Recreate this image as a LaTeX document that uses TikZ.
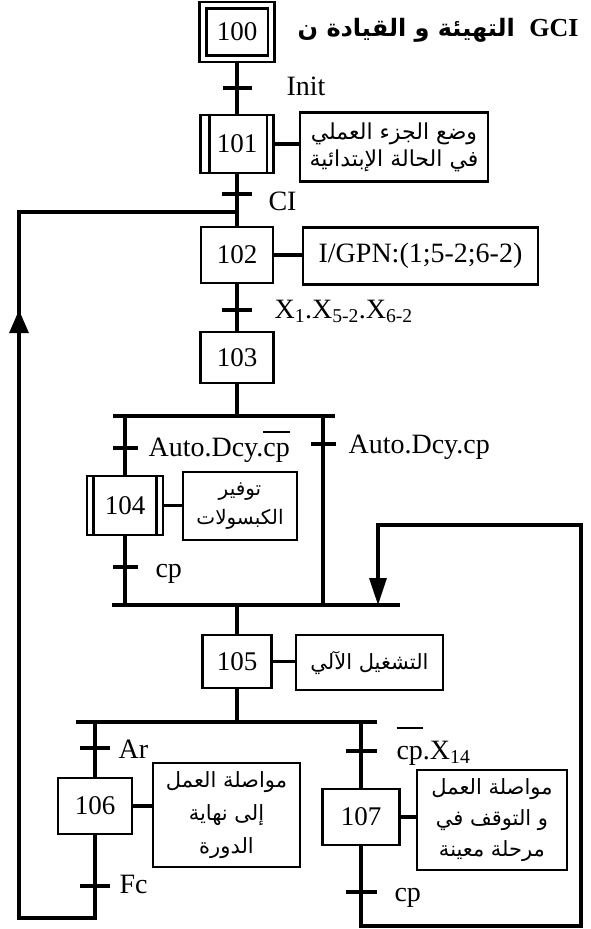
\documentclass[tikz,border=0pt]{standalone}
\usepackage{fontspec}
\setmainfont{Liberation Serif}
\newfontfamily\arabicfont[Script=Arabic]{DejaVu Sans}
\TeXXeTstate=1
\usetikzlibrary{arrows.meta}
% overline raised by #1 above the baseline, over the text #2
\newcommand\ovl[2]{\setbox0\hbox{#2}\rlap{\raisebox{#1}{\rule{\wd0}{1.6pt}}}\box0}
\begin{document}
\begin{tikzpicture}[x=1pt,y=-1pt,line width=3.1pt,
  stepbox/.style={draw,line width=2.9pt,inner sep=0pt,font=\fontsize{27}{30}\selectfont},
  actbox/.style={draw,line width=2.9pt,inner sep=0pt,align=center,font=\arabicfont\fontsize{21}{28}\selectfont},
  trans/.style={fill=black,inner sep=0pt,minimum height=3.1pt},
  lbl/.style={anchor=base west,inner sep=0pt,font=\fontsize{28}{30}\selectfont},
  bar/.style={line width=3.1pt}]
\useasboundingbox (0,0) rectangle (590,929);

% title
\node[anchor=base east,inner sep=0pt,font=\arabicfont\bfseries\fontsize{24}{28}\selectfont] (title) at (580,36)
  {\beginR\beginL{\rmfamily\bfseries\fontsize{26}{28}\selectfont GCI}\endL\hspace{6pt} التهيئة و القيادة ن\endR};

% steps
\node[stepbox,minimum width=75pt,minimum height=60pt] (s100) at (237,32) {100};
\draw[line width=2.9pt] ([xshift=8pt,yshift=-8pt]s100.north west) rectangle ([xshift=-8pt,yshift=8pt]s100.south east);
\node[stepbox,minimum width=73pt,minimum height=58pt] (s101) at (237,144) {101};
\draw[line width=2.9pt] ([xshift=10pt]s101.north west) -- ([xshift=10pt]s101.south west);
\draw[line width=2.9pt] ([xshift=-8pt]s101.north east) -- ([xshift=-8pt]s101.south east);
\node[stepbox,minimum width=72pt,minimum height=56pt] (s102) at (237,255) {102};
\node[stepbox,minimum width=73pt,minimum height=51pt] (s103) at (237,357.5) {103};
\node[stepbox,minimum width=76pt,minimum height=59pt] (s104) at (125,505.5) {104};
\draw[line width=2.9pt] ([xshift=8pt]s104.north west) -- ([xshift=8pt]s104.south west);
\draw[line width=2.9pt] ([xshift=-8pt]s104.north east) -- ([xshift=-8pt]s104.south east);
\node[stepbox,minimum width=69pt,minimum height=53pt] (s105) at (237,661.5) {105};
\node[stepbox,minimum width=74pt,minimum height=56pt] (s106) at (95,806) {106};
\node[stepbox,minimum width=77pt,minimum height=56pt] (s107) at (361,817) {107};

% actions
\node[actbox,minimum width=188pt,minimum height=69pt,font=\arabicfont\fontsize{22}{27}\selectfont] (a101) at (394,147)
  {\beginR وضع الجزء العملي\endR\\\beginR في الحالة الإبتدائية\endR};
\node[actbox,minimum width=235pt,minimum height=57pt,font=\fontsize{28}{30}\selectfont] (a102) at (420.5,256)
  {I/GPN:(1;5-2;6-2)};
\node[actbox,minimum width=114pt,minimum height=68pt,font=\arabicfont\fontsize{20}{29}\selectfont] (a104) at (240,506)
  {\beginR توفير\endR\\\beginR الكبسولات\endR};
\node[actbox,minimum width=147pt,minimum height=55pt] (a105) at (369.5,662.5)
  {\beginR التشغيل الآلي\endR};
\node[actbox,minimum width=147pt,minimum height=104pt,font=\arabicfont\fontsize{21}{33}\selectfont] (a106) at (226.5,815)
  {\beginR مواصلة العمل\endR\\\beginR إلى نهاية\endR\\\beginR الدورة\endR};
\node[actbox,minimum width=150pt,minimum height=100pt,font=\arabicfont\fontsize{21}{31}\selectfont] (a107) at (492,820)
  {\beginR مواصلة العمل\endR\\\beginR و التوقف في\endR\\\beginR مرحلة معينة\endR};

\foreach \s in {101,102,104,105,106,107}
  \draw (s\s.east) -- (s\s.east -| a\s.west);

% transitions
\node[trans,minimum width=29pt] (t1) at (237,88) {};
\node[trans,minimum width=30pt] (t2) at (237,194) {};
\node[trans,minimum width=30pt] (t3) at (237,310) {};
\node[trans,minimum width=25pt] (t4) at (125,448) {};
\node[trans,minimum width=25pt] (t5) at (323,444) {};
\node[trans,minimum width=25pt] (t6) at (125,567) {};
\node[trans,minimum width=30pt] (t7) at (95,748) {};
\node[trans,minimum width=30pt] (t8) at (95,886) {};
\node[trans,minimum width=31pt] (t9) at (361,751) {};
\node[trans,minimum width=31pt] (t10) at (361,892) {};

% transition labels
\node[lbl] (l1) at (285,95) {Init};
\node[lbl] (l2) at (267,210) {CI};
\node[lbl] (l3) at (273,318) {X\textsubscript{1}.X\textsubscript{5-2}.X\textsubscript{6-2}};
\node[lbl] (l4) at (147,456) {Auto.Dcy.\ovl{23pt}{cp}};
\node[lbl] (l5) at (347,453) {Auto.Dcy.cp};
\node[lbl] (l6) at (154,577) {cp};
\node[lbl] (l7) at (117,758) {Ar};
\node[lbl] (l8) at (118,893) {Fc};
\node[lbl] (l9) at (395,759) {\ovl{30pt}{cp}.X\textsubscript{14}};
\node[lbl] (l10) at (393,901) {cp};

% bars
\coordinate (b1l) at (113,416); \coordinate (b1r) at (335,416);
\coordinate (b2l) at (112,605); \coordinate (b2r) at (400,605);
\coordinate (b3l) at (76,722);  \coordinate (b3r) at (377,722);
\draw[bar] (b1l) -- (b1r);
\draw[bar] (b2l) -- (b2r);
\draw[bar] (b3l) -- (b3r);

% vertical links
\draw (s100.south) -- (s101.north);
\draw (s101.south) -- (s102.north);
\draw (s102.south) -- (s103.north);
\draw (s103.south) -- (s103.south |- b1l);
\draw (s104.north |- b1l) -- (s104.north);
\coordinate (rb) at (323,416);
\draw (rb) -- (rb |- b2l);
\draw (s104.south) -- (s104.south |- b2l);
\draw (s105.north |- b2l) -- (s105.north);
\draw (s105.south) -- (s105.south |- b3l);
\draw (s106.north |- b3l) -- (s106.north);
\draw (s107.north |- b3l) -- (s107.north);

% left loop back to 102
\coordinate (L1) at (95,918); \coordinate (L2) at (19,918);
\coordinate (La) at (19,310); \coordinate (Lb) at (19,316);
\coordinate (L3) at (19,212); \coordinate (J) at (237,212);
\draw[-{Triangle[length=23pt,width=19pt]}] (s106.south) -- (L1) -- (L2) -- (La);
\draw (Lb) -- (L3) -- (J);

% right loop back to 105
\coordinate (R1) at (361,926); \coordinate (R2) at (581,926);
\coordinate (R3) at (581,525); \coordinate (R4) at (378,525); \coordinate (R5) at (378,605);
\draw[-{Triangle[length=27pt,width=17pt]}] (s107.south) -- (R1) -- (R2) -- (R3) -- (R4) -- (R5);
\end{tikzpicture}
\end{document}
